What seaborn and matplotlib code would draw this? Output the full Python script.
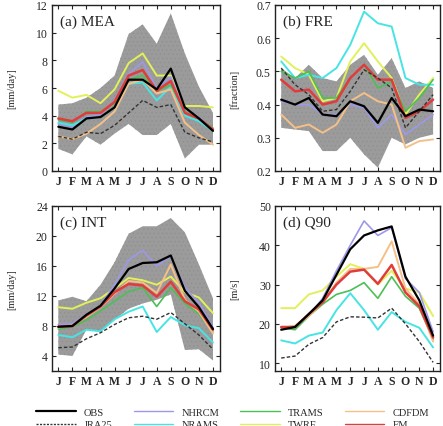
import numpy as np
import pandas as pd
import seaborn as sns
from matplotlib import pyplot as plt
from matplotlib.lines import Line2D

months = ['J', 'F', 'M', 'A', 'M', 'J', 'J', 'A', 'S', 'O', 'N', 'D']
models = ['OBS', 'JRA25', 'NHRCM', 'NRAMS', 'TRAMS', 'TWRF', 'CDFDM', 'EM']

# (a) MEA [mm/day]
mea_upper = [4.8, 4.9, 5.3, 6.0, 6.9, 9.9, 10.6, 9.2, 11.4, 8.5, 6.1, 4.2]
mea_lower = [1.6, 1.2, 2.5, 1.9, 2.7, 3.4, 2.6, 2.6, 3.4, 0.9, 1.9, 1.9]
mea_obs = [3.2, 3.0, 3.8, 3.9, 4.6, 6.6, 6.6, 5.9, 7.4, 4.6, 3.8, 2.9]
mea_jra25 = [2.5, 2.3, 2.8, 2.7, 3.3, 4.2, 5.1, 4.6, 4.8, 2.8, 2.4, 2.1]
mea_nhrcm = [3.4, 3.2, 3.9, 4.1, 5.1, 7.0, 7.9, 6.0, 6.8, 4.3, 3.9, 3.0]
mea_nrams = [3.5, 3.3, 3.8, 3.9, 4.6, 6.3, 6.4, 5.1, 6.1, 4.0, 3.6, 2.9]
mea_trams = [3.7, 3.5, 4.3, 4.3, 4.9, 6.6, 6.9, 5.8, 6.2, 4.3, 3.8, 3.1]
mea_twrf = [5.8, 5.3, 5.5, 4.9, 5.9, 7.8, 8.5, 6.9, 6.9, 4.7, 4.7, 4.6]
mea_cdfdm = [2.5, 2.3, 2.7, 3.4, 4.3, 6.3, 6.6, 5.6, 5.9, 3.5, 2.6, 1.9]
mea_em = [3.8, 3.6, 4.2, 4.2, 5.0, 6.9, 7.3, 5.8, 6.5, 4.2, 3.8, 3.0]

# (b) FRE [fraction]
fre_upper = [0.51, 0.48, 0.52, 0.48, 0.47, 0.52, 0.55, 0.49, 0.54, 0.45, 0.47, 0.45]
fre_lower = [0.33, 0.325, 0.32, 0.26, 0.26, 0.30, 0.25, 0.21, 0.30, 0.28, 0.30, 0.31]
fre_obs = [0.415, 0.40, 0.42, 0.37, 0.365, 0.41, 0.395, 0.345, 0.42, 0.365, 0.385, 0.38]
fre_jra25 = [0.51, 0.46, 0.43, 0.38, 0.385, 0.44, 0.505, 0.48, 0.45, 0.33, 0.38, 0.43]
fre_nhrcm = [0.41, 0.40, 0.40, 0.37, 0.37, 0.40, 0.39, 0.33, 0.37, 0.31, 0.34, 0.37]
fre_nrams = [0.53, 0.48, 0.49, 0.48, 0.51, 0.58, 0.68, 0.645, 0.635, 0.48, 0.46, 0.46]
fre_trams = [0.50, 0.48, 0.50, 0.42, 0.42, 0.48, 0.52, 0.45, 0.47, 0.38, 0.42, 0.475]
fre_twrf = [0.545, 0.51, 0.49, 0.41, 0.42, 0.53, 0.585, 0.53, 0.48, 0.37, 0.43, 0.48]
fre_cdfdm = [0.37, 0.33, 0.34, 0.315, 0.34, 0.41, 0.435, 0.41, 0.40, 0.27, 0.29, 0.295]
fre_em = [0.475, 0.44, 0.445, 0.40, 0.41, 0.48, 0.52, 0.475, 0.475, 0.36, 0.38, 0.415]

# (c) INT [mm/day]
int_upper = [11.4, 11.9, 11.3, 13.5, 16.5, 20.3, 21.3, 21.3, 22.4, 20.5, 16.2, 11.7]
int_lower = [4.2, 4.0, 7.5, 7.2, 8.8, 10.3, 11.0, 11.5, 12.2, 4.8, 4.9, 3.4]
int_obs = [7.9, 8.0, 9.5, 10.7, 13.0, 15.6, 16.4, 16.5, 17.4, 12.7, 10.5, 7.6]
int_jra25 = [5.1, 5.2, 6.3, 7.1, 8.2, 9.1, 9.3, 8.9, 9.8, 8.3, 6.8, 4.9]
int_nhrcm = [8.2, 8.3, 9.5, 10.7, 13.5, 16.8, 18.1, 16.0, 17.3, 13.1, 11.1, 7.8]
int_nrams = [6.8, 6.5, 7.5, 7.3, 8.9, 9.9, 10.6, 7.2, 9.2, 8.1, 7.7, 5.8]
int_trams = [7.6, 7.9, 8.8, 10.0, 11.3, 12.6, 13.1, 10.6, 13.1, 11.0, 9.6, 7.2]
int_twrf = [10.5, 10.3, 11.1, 11.7, 13.0, 14.4, 14.1, 13.5, 14.6, 12.5, 11.8, 9.7]
int_cdfdm = [7.8, 8.1, 9.2, 10.5, 12.3, 14.0, 13.8, 12.4, 16.2, 11.5, 9.9, 7.0]
int_em = [7.9, 8.0, 9.4, 10.6, 12.5, 13.6, 13.4, 11.9, 13.9, 11.3, 10.2, 7.5]

# (d) Q90 [m/s]
q90_obs = [18.5, 19.2, 22.5, 26.0, 32.5, 39.0, 42.5, 43.8, 44.8, 32.0, 26.0, 17.0]
q90_jra25 = [11.3, 11.8, 14.8, 16.5, 20.5, 21.8, 21.7, 21.5, 24.0, 20.0, 15.5, 10.2]
q90_nhrcm = [19.0, 19.0, 22.0, 26.5, 33.5, 40.0, 46.2, 42.5, 44.5, 31.5, 28.0, 18.0]
q90_nrams = [15.8, 15.0, 17.0, 17.8, 23.5, 27.8, 23.5, 18.5, 23.0, 20.5, 19.0, 14.0]
q90_trams = [19.0, 18.5, 22.0, 25.0, 27.5, 28.5, 30.5, 26.5, 32.0, 27.0, 24.0, 16.0]
q90_twrf = [24.0, 24.0, 27.5, 28.5, 32.0, 35.2, 34.0, 30.0, 33.5, 29.0, 28.0, 22.0]
q90_cdfdm = [19.0, 19.5, 22.0, 25.5, 30.5, 34.0, 34.0, 34.5, 41.0, 29.0, 25.0, 15.5]
q90_em = [19.2, 19.2, 22.5, 25.5, 30.0, 33.3, 33.8, 30.2, 35.0, 28.0, 24.5, 16.5]

colors = {'OBS': 'black', 'JRA25': '#333333', 'NHRCM': '#9d98e8', 'NRAMS': '#48e4e4',
          'TRAMS': '#4cbf55', 'TWRF': '#e2f05a', 'CDFDM': '#f5c088', 'EM': '#e03c3c'}
widths = {'OBS': 1.6, 'JRA25': 1.0, 'NHRCM': 1.2, 'NRAMS': 1.4, 'TRAMS': 1.2,
          'TWRF': 1.4, 'CDFDM': 1.4, 'EM': 1.8}
draw_order = ['TWRF', 'NHRCM', 'NRAMS', 'TRAMS', 'CDFDM', 'EM', 'JRA25', 'OBS']

sns.set_style('ticks')
plt.rcParams['font.family'] = ['Liberation Serif', 'DejaVu Serif']
plt.rcParams['hatch.linewidth'] = 0.4

fig = plt.figure(figsize=(4.43, 4.27), dpi=100)
W, H = 443, 427


def make_ax(l, t, r, b):
    return fig.add_axes([l / W, 1 - b / H, (r - l) / W, (b - t) / H])


panels = [
    ('(a) MEA', '[mm/day]', (52, 6, 220, 172), (0, 12), [0, 2, 4, 6, 8, 10, 12], '{:g}',
     mea_upper, mea_lower,
     [mea_obs, mea_jra25, mea_nhrcm, mea_nrams, mea_trams, mea_twrf, mea_cdfdm, mea_em]),
    ('(b) FRE', '[fraction]', (275, 6, 440, 172), (0.2, 0.7), [0.2, 0.3, 0.4, 0.5, 0.6, 0.7], '{:.1f}',
     fre_upper, fre_lower,
     [fre_obs, fre_jra25, fre_nhrcm, fre_nrams, fre_trams, fre_twrf, fre_cdfdm, fre_em]),
    ('(c) INT', '[mm/day]', (52, 207, 220, 372), (2, 24), [4, 8, 12, 16, 20, 24], '{:g}',
     int_upper, int_lower,
     [int_obs, int_jra25, int_nhrcm, int_nrams, int_trams, int_twrf, int_cdfdm, int_em]),
    ('(d) Q90', '[m/s]', (275, 207, 440, 372), (8, 50), [10, 20, 30, 40, 50], '{:g}',
     None, None,
     [q90_obs, q90_jra25, q90_nhrcm, q90_nrams, q90_trams, q90_twrf, q90_cdfdm, q90_em]),
]

x = np.arange(12)
for title, ylab, box, ylim, yticks, fmt, upper, lower, series in panels:
    ax = make_ax(*box)
    if upper is not None:
        ax.fill_between(x, lower, upper, facecolor='#9b9b9b', edgecolor='#8f8f8f',
                        hatch='....', linewidth=0, zorder=1)
    df = pd.DataFrame(dict(zip(models, series)))
    df['month'] = x
    for name in draw_order:
        if name == 'JRA25':
            sns.lineplot(data=df, x='month', y=name, ax=ax, color=colors[name],
                         lw=widths[name], dashes=False, linestyle=(0, (2.5, 1.5)), zorder=3)
        else:
            sns.lineplot(data=df, x='month', y=name, ax=ax, color=colors[name],
                         lw=widths[name], zorder=3)
    ax.set_xlim(-0.45, 11.5)
    ax.set_ylim(*ylim)
    ax.set_xticks(x)
    ax.set_xticklabels(months, fontweight='bold', fontsize=8.5)
    ax.set_yticks(yticks)
    ax.set_yticklabels([fmt.format(v) for v in yticks], fontsize=8.5)
    ax.tick_params(direction='in', top=True, right=True, length=3, width=0.8, pad=3)
    ax.set_xlabel('')
    ax.set_ylabel(ylab, fontsize=7.5)
    ax.yaxis.set_label_coords(-0.215, 0.5)
    ax.text(0.05, 0.94, title, transform=ax.transAxes, fontsize=11, va='top', ha='left')
    for s in ax.spines.values():
        s.set_linewidth(1.0)
        s.set_color('#222222')

handles = []
for name in models:
    ls = (0, (1.5, 1.0)) if name == 'JRA25' else '-'
    handles.append(Line2D([], [], color=colors[name], lw=1.6 if name == 'OBS' else 1.0,
                          linestyle=ls))
fig.legend(handles, models, ncol=4, loc='center', bbox_to_anchor=(0.525, 0.018),
           frameon=False, fontsize=7.5, handlelength=3.8, handletextpad=0.8,
           columnspacing=2.0, labelspacing=0.3)

fig.savefig('out.png', dpi=100)
